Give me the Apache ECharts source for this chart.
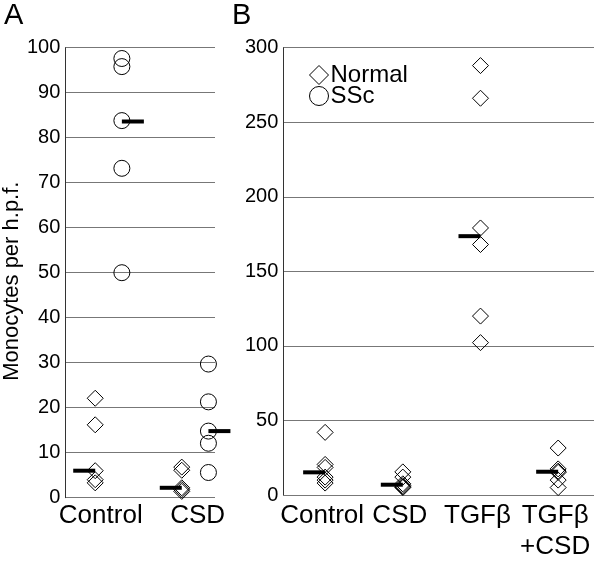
<!DOCTYPE html>
<html>
<head>
<meta charset="utf-8">
<script src="https://cdn.jsdelivr.net/npm/echarts@6/dist/echarts.min.js"></script>
<style>
html,body{margin:0;padding:0;background:#fff;}
#chart{width:600px;height:562px;}
</style>
</head>
<body>
<div id="chart"></div>
<script>
// ---- Data ----
const groupsA = ['Control', 'CSD'];
const normalA_Control = [22.1, 16.2, 6.0, 4.0, 3.3];
const normalA_CSD = [6.8, 6.1, 2.2, 1.8, 1.4];
const sscA_Control = [97.6, 95.8, 83.8, 73.2, 50.0];
const sscA_CSD = [29.7, 21.3, 14.8, 12.1, 5.6];
const medianA_Normal = [6.0, 2.2];
const medianA_SSc = [83.6, 14.8];

const groupsB = ['Control', 'CSD', 'TGF\u03B2', 'TGF\u03B2\n+CSD'];
const normalB_Control = [42.0, 20.5, 18.5, 12.0, 10.0, 8.0];
const normalB_CSD = [15.5, 12.0, 7.5, 6.3, 5.5, 5.0];
const normalB_TGFb = [288.0, 266.1, 179.1, 168.0, 120.0, 102.2];
const normalB_TGFbCSD = [31.5, 17.5, 16.0, 15.2, 10.0, 5.0];
const medianB = [15.2, 6.9, 173.6, 15.6];

const yTicksA = [0, 100, 10];   // min, max, interval
const yTicksB = [0, 300, 50];

// ---- Layout constants ----
const FONT = '"Liberation Sans", Arial, Helvetica, sans-serif';
const offA = 0.154;              // horizontal shift of Normal / SSc columns in panel A
const labelPosA = [0.91, 2.03];  // label anchor positions in panel A

function colA(vals, gi, off) { return vals.map(v => [gi + 1 + off, v]); }
function colB(vals, gi) { return vals.map(v => [gi, v]); }

const openStyle = { color: 'transparent', borderColor: '#000', borderWidth: 1, opacity: 1 };
const barStyle = { color: '#000', opacity: 1 };

const chart = echarts.init(document.getElementById('chart'), null, { renderer: 'canvas' });

const option = {
  animation: false,
  backgroundColor: '#fff',
  textStyle: { fontFamily: FONT, color: '#000' },
  title: [
    { text: 'A', left: 4, top: 1, padding: 0, textStyle: { fontSize: 29, fontWeight: 'normal', color: '#000', fontFamily: FONT } },
    { text: 'B', left: 232, top: 1, padding: 0, textStyle: { fontSize: 29, fontWeight: 'normal', color: '#000', fontFamily: FONT } }
  ],
  legend: {
    data: ['Normal', 'SSc'],
    orient: 'vertical',
    left: 309, top: 63,
    padding: 0,
    itemWidth: 19, itemHeight: 19, itemGap: -3,
    itemStyle: { color: 'transparent', borderColor: '#000', borderWidth: 1, opacity: 1 },
    textStyle: { fontSize: 24, lineHeight: 22, color: '#000', fontFamily: FONT, padding: [0, 0, 0, -3] },
    selectedMode: false
  },
  grid: [
    { left: 60, top: 47.7, width: 155, height: 450 },
    { left: 283.3, top: 47.7, width: 310.7, height: 448.3 }
  ],
  xAxis: [
    {
      gridIndex: 0, type: 'value', min: 0.5, max: 2.23,
      axisLine: { show: false }, axisTick: { show: false }, splitLine: { show: false },
      axisLabel: {
        customValues: labelPosA,
        formatter: v => (v < 1.5 ? groupsA[0] : groupsA[1]),
        fontSize: 26, color: '#000', margin: 5, fontFamily: FONT
      }
    },
    {
      gridIndex: 1, type: 'category', data: groupsB,
      axisLine: { show: false }, axisTick: { show: false }, splitLine: { show: false },
      axisLabel: { interval: 0, fontSize: 26, lineHeight: 31, color: '#000', margin: 5, fontFamily: FONT }
    }
  ],
  yAxis: [
    {
      gridIndex: 0, type: 'value', min: yTicksA[0], max: yTicksA[1], interval: yTicksA[2],
      name: 'Monocytes per h.p.f.', nameLocation: 'middle', nameRotate: 90, nameGap: 35,
      nameTextStyle: { fontSize: 22, color: '#000', fontFamily: FONT, padding: [0, 17, 0, 0] },
      axisLine: { show: true, lineStyle: { color: '#333', width: 1 } },
      axisTick: { show: false },
      axisLabel: { fontSize: 20, color: '#000', margin: 5, fontFamily: FONT },
      splitLine: { show: true, lineStyle: { color: '#777', width: 1 } }
    },
    {
      gridIndex: 1, type: 'value', min: yTicksB[0], max: yTicksB[1], interval: yTicksB[2],
      axisLine: { show: true, lineStyle: { color: '#333', width: 1 } },
      axisTick: { show: false },
      axisLabel: { fontSize: 20, color: '#000', margin: 5, fontFamily: FONT },
      splitLine: { show: true, lineStyle: { color: '#777', width: 1 } }
    }
  ],
  series: [
    {
      name: 'Normal', type: 'scatter', xAxisIndex: 0, yAxisIndex: 0,
      symbol: 'diamond', symbolSize: 16, itemStyle: openStyle,
      data: colA(normalA_Control, 0, -offA).concat(colA(normalA_CSD, 1, -offA))
    },
    {
      name: 'SSc', type: 'scatter', xAxisIndex: 0, yAxisIndex: 0,
      symbol: 'circle', symbolSize: 16, itemStyle: openStyle,
      data: colA(sscA_Control, 0, offA).concat(colA(sscA_CSD, 1, offA))
    },
    {
      name: 'medianA_Normal', type: 'scatter', xAxisIndex: 0, yAxisIndex: 0,
      symbol: 'rect', symbolSize: [22, 4], symbolOffset: [-11, 0],
      itemStyle: barStyle, z: 5,
      data: medianA_Normal.map((v, i) => [i + 1 - offA, v])
    },
    {
      name: 'medianA_SSc', type: 'scatter', xAxisIndex: 0, yAxisIndex: 0,
      symbol: 'rect', symbolSize: [22, 4], symbolOffset: [11, 0],
      itemStyle: barStyle, z: 5, clip: false,
      data: medianA_SSc.map((v, i) => [i + 1 + offA, v])
    },
    {
      name: 'Normal', type: 'scatter', xAxisIndex: 1, yAxisIndex: 1,
      symbol: 'diamond', symbolSize: 16, symbolOffset: [3, 0], itemStyle: openStyle,
      data: colB(normalB_Control, 0).concat(colB(normalB_CSD, 1), colB(normalB_TGFb, 2), colB(normalB_TGFbCSD, 3))
    },
    {
      name: 'medianB', type: 'scatter', xAxisIndex: 1, yAxisIndex: 1,
      symbol: 'rect', symbolSize: [22, 4], symbolOffset: [-8, 0],
      itemStyle: barStyle, z: 5,
      data: medianB.map((v, i) => [i, v])
    }
  ]
};
chart.setOption(option);
</script>
</body>
</html>
